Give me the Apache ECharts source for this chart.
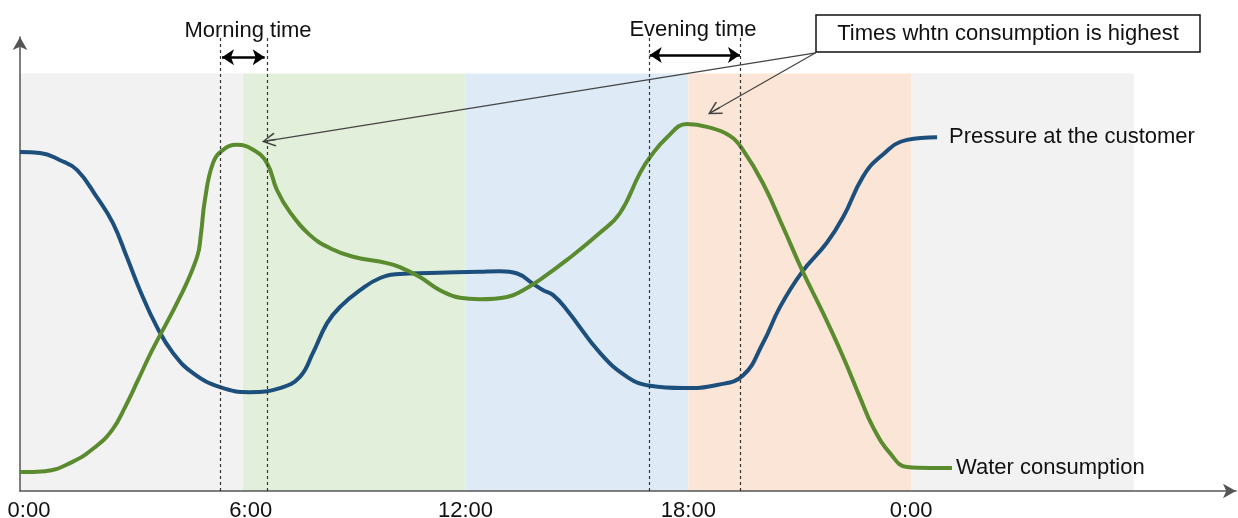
<!DOCTYPE html>
<html>
<head>
<meta charset="utf-8">
<script src="https://cdn.jsdelivr.net/npm/echarts@6/dist/echarts.min.js"></script>
<style>
html,body{margin:0;padding:0;background:#fff;}
#c{width:1238px;height:518px;}
</style>
</head>
<body>
<div id="c"></div>
<script>
// ---- data (x = hours since midnight, y = relative level) ----
const tickLabels = ['0:00', '6:00', '12:00', '18:00', '0:00'];
const pressureName = 'Pressure at the customer';
const consumptionName = 'Water consumption';

const pressurePoints = [
  [0,75.1],[0.54,74.9],[1.08,73.3],[1.54,71.1],[2.07,65.1],[2.5,59.4],[2.88,51.8],[3.23,44.5],
  [3.69,36.3],[4.12,30.6],[4.66,26.1],[5.39,23.0],[6.19,21.9],[7.0,22.8],[7.54,25.3],[7.89,30.6],
  [8.27,37.2],[8.62,40.8],[9.16,44.5],[9.7,47.2],[10.23,48.1],[11.04,48.3],[12.39,48.6],[12.93,48.7],
  [13.39,48.2],[13.82,45.9],[14.09,44.5],[14.36,43.4],[14.73,40.1],[15.62,30.6],[16.35,25.3],[16.97,23.3],
  [17.86,22.8],[18.77,23.5],[19.47,25.6],[20.01,32.8],[20.47,40.8],[21.06,48.5],[21.73,55.0],[22.17,60.7],
  [22.7,69.6],[23.16,74.0],[23.89,77.8],[24.7,78.4]
];

const consumptionPoints = [
  [0,4.2],[0.67,4.4],[1.4,6.4],[2.02,9.7],[2.48,13.5],[2.83,18.6],[3.18,24.6],[3.56,31.2],
  [4.31,43.0],[4.77,51.9],[4.87,56.7],[4.98,64.5],[5.2,72.7],[5.47,75.6],[5.84,76.7],[6.28,75.6],[6.65,72.7],
  [6.92,66.7],[7.27,61.8],[7.81,56.7],[8.35,53.8],[8.97,51.9],[9.88,50.5],[10.23,49.6],
  [10.77,47.4],[11.31,44.5],[11.85,42.8],[12.39,42.5],[13.12,43.0],[13.55,44.5],[14.0,46.8],[14.73,51.2],
  [15.62,57.2],[16.16,61.6],[16.7,70.5],[16.97,74.0],[17.43,78.4],[17.96,81.3],[18.5,80.7],[19.12,78.7],
  [19.47,75.6],[20.01,68.2],[20.55,58.5],[21.06,49.0],[21.63,39.4],[22.17,29.7],[22.62,20.8],[22.97,14.2],
  [23.43,8.4],[23.89,5.3],[24.51,5.1],[25.1,5.1]
];

// background periods [start hour, end hour]
const periods = [[0,6],[6,12],[12,18],[18,24],[24,30]];
const periodColors = ['#f2f2f2','#e2efda','#deebf7','#fbe5d6','#f2f2f2'];
const bandTop = 92.5;

// peak-time window boundaries (hours)
const morningWindow = [5.38, 6.67];
const eveningWindow = [16.94, 19.41];
const windowArrowLevel = [96.1, 96.6];
const windowArrowEnds = [[5.44, 6.59], [16.96, 19.39]];
// annotation anchors (hours, level)
const calloutStart = [21.43, 97.1];
const morningPeakTip = [6.70, 77.65];
const eveningPeakTip = [18.69, 84.25];

// ---- chart ----
const chart = echarts.init(document.getElementById('c'), null, {renderer: 'canvas'});
const FONT = "'Liberation Sans', Arial, sans-serif";
const openArrow = 'path://M5,0 L10,9 L9.2,10 L5.5,3 L5.5,10 L4.5,10 L4.5,3 L0.8,10 L0,9 Z';
const Y_MAX = 100.6;

const bandData = periods.map((p, i) => [
  {xAxis: p[0], yAxis: 0, itemStyle: {color: periodColors[i]}},
  {xAxis: p[1], yAxis: bandTop}
]);

const dashed = [...morningWindow, ...eveningWindow].map(h => [
  {coord: [h, 0], symbol: 'none', lineStyle: {color: '#333', width: 1.2, type: [3, 3]}},
  {coord: [h, Y_MAX], symbol: 'none'}
]);

const doubleArrows = windowArrowEnds.map((e, i) => [
  {coord: [e[0], windowArrowLevel[i]], symbol: 'arrow', symbolSize: 12,
    lineStyle: {color: '#000', width: 2.5, type: 'solid'}},
  {coord: [e[1], windowArrowLevel[i]], symbol: 'arrow', symbolSize: 12}
]);

const callouts = [morningPeakTip, eveningPeakTip].map(tip => [
  {coord: calloutStart, symbol: 'none', lineStyle: {color: '#444', width: 1.2, type: 'solid'}},
  {coord: tip, symbol: openArrow, symbolSize: 14}
]);

const option = {
  animation: false,
  backgroundColor: '#fff',
  textStyle: {fontFamily: FONT},
  grid: {left: 20, right: 2, top: 37, bottom: 27, containLabel: false, outerBoundsMode: 'none'},
  xAxis: {
    type: 'value', min: 0, max: 32.75, interval: 6,
    axisLine: {show: true, symbol: ['none', 'arrow'], symbolSize: [11, 13],
      lineStyle: {color: '#555', width: 1.5}},
    axisTick: {show: false},
    splitLine: {show: false},
    axisLabel: {
      margin: 9, color: '#111', fontSize: 22, fontFamily: FONT,
      showMaxLabel: false,
      formatter: v => {
        const i = Math.round(v / 6);
        if (Math.abs(v - i * 6) > 1e-6 || i >= tickLabels.length) return '';
        if (i === 0) return '{a|' + tickLabels[i] + '}';
        if (i === 1) return '{b|' + tickLabels[i] + '}';
        return tickLabels[i];
      },
      rich: {
        a: {fontSize: 22, color: '#111', fontFamily: FONT, padding: [0, 0, 0, 18]},
        b: {fontSize: 22, color: '#111', fontFamily: FONT, padding: [0, 0, 0, 16]}
      }
    }
  },
  yAxis: {
    type: 'value', min: 0, max: Y_MAX,
    axisLine: {show: true, symbol: ['none', 'arrow'], symbolSize: [11, 13],
      lineStyle: {color: '#555', width: 1.5}},
    axisTick: {show: false},
    axisLabel: {show: false},
    splitLine: {show: false}
  },
  series: [
    {
      name: 'bands', type: 'line', data: [], z: 1, clip: false, silent: true,
      markArea: {silent: true, z: 0, data: bandData},
      markLine: {silent: true, z: 6, animation: false, label: {show: false},
        data: [...dashed, ...doubleArrows, ...callouts]}
    },
    {
      name: pressureName, type: 'line', data: pressurePoints, smooth: 0.45,
      symbol: 'none', z: 3,
      lineStyle: {color: '#1c4f7c', width: 4},
      endLabel: {show: true, formatter: pressureName, color: '#111', fontSize: 22,
        fontFamily: FONT, distance: 12}
    },
    {
      name: consumptionName, type: 'line', data: consumptionPoints, smooth: 0.45,
      symbol: 'none', z: 3,
      lineStyle: {color: '#5b8b2f', width: 4},
      endLabel: {show: true, formatter: consumptionName, color: '#111', fontSize: 22,
        fontFamily: FONT, distance: 4}
    }
  ],
  graphic: [
    {type: 'text', x: 248, y: 31, z: 10,
      style: {text: 'Morning time', fill: '#111', font: '22px ' + FONT, textAlign: 'center', textVerticalAlign: 'middle'}},
    {type: 'text', x: 693, y: 30, z: 10,
      style: {text: 'Evening time', fill: '#111', font: '22px ' + FONT, textAlign: 'center', textVerticalAlign: 'middle'}},
    {type: 'rect', x: 816, y: 15, z: 10,
      shape: {width: 384, height: 37},
      style: {fill: '#fff', stroke: '#111', lineWidth: 1.5}},
    {type: 'text', x: 1008, y: 34, z: 11,
      style: {text: 'Times whtn consumption is highest', fill: '#111', font: '22px ' + FONT, textAlign: 'center', textVerticalAlign: 'middle'}}
  ]
};
chart.setOption(option);
</script>
</body>
</html>
